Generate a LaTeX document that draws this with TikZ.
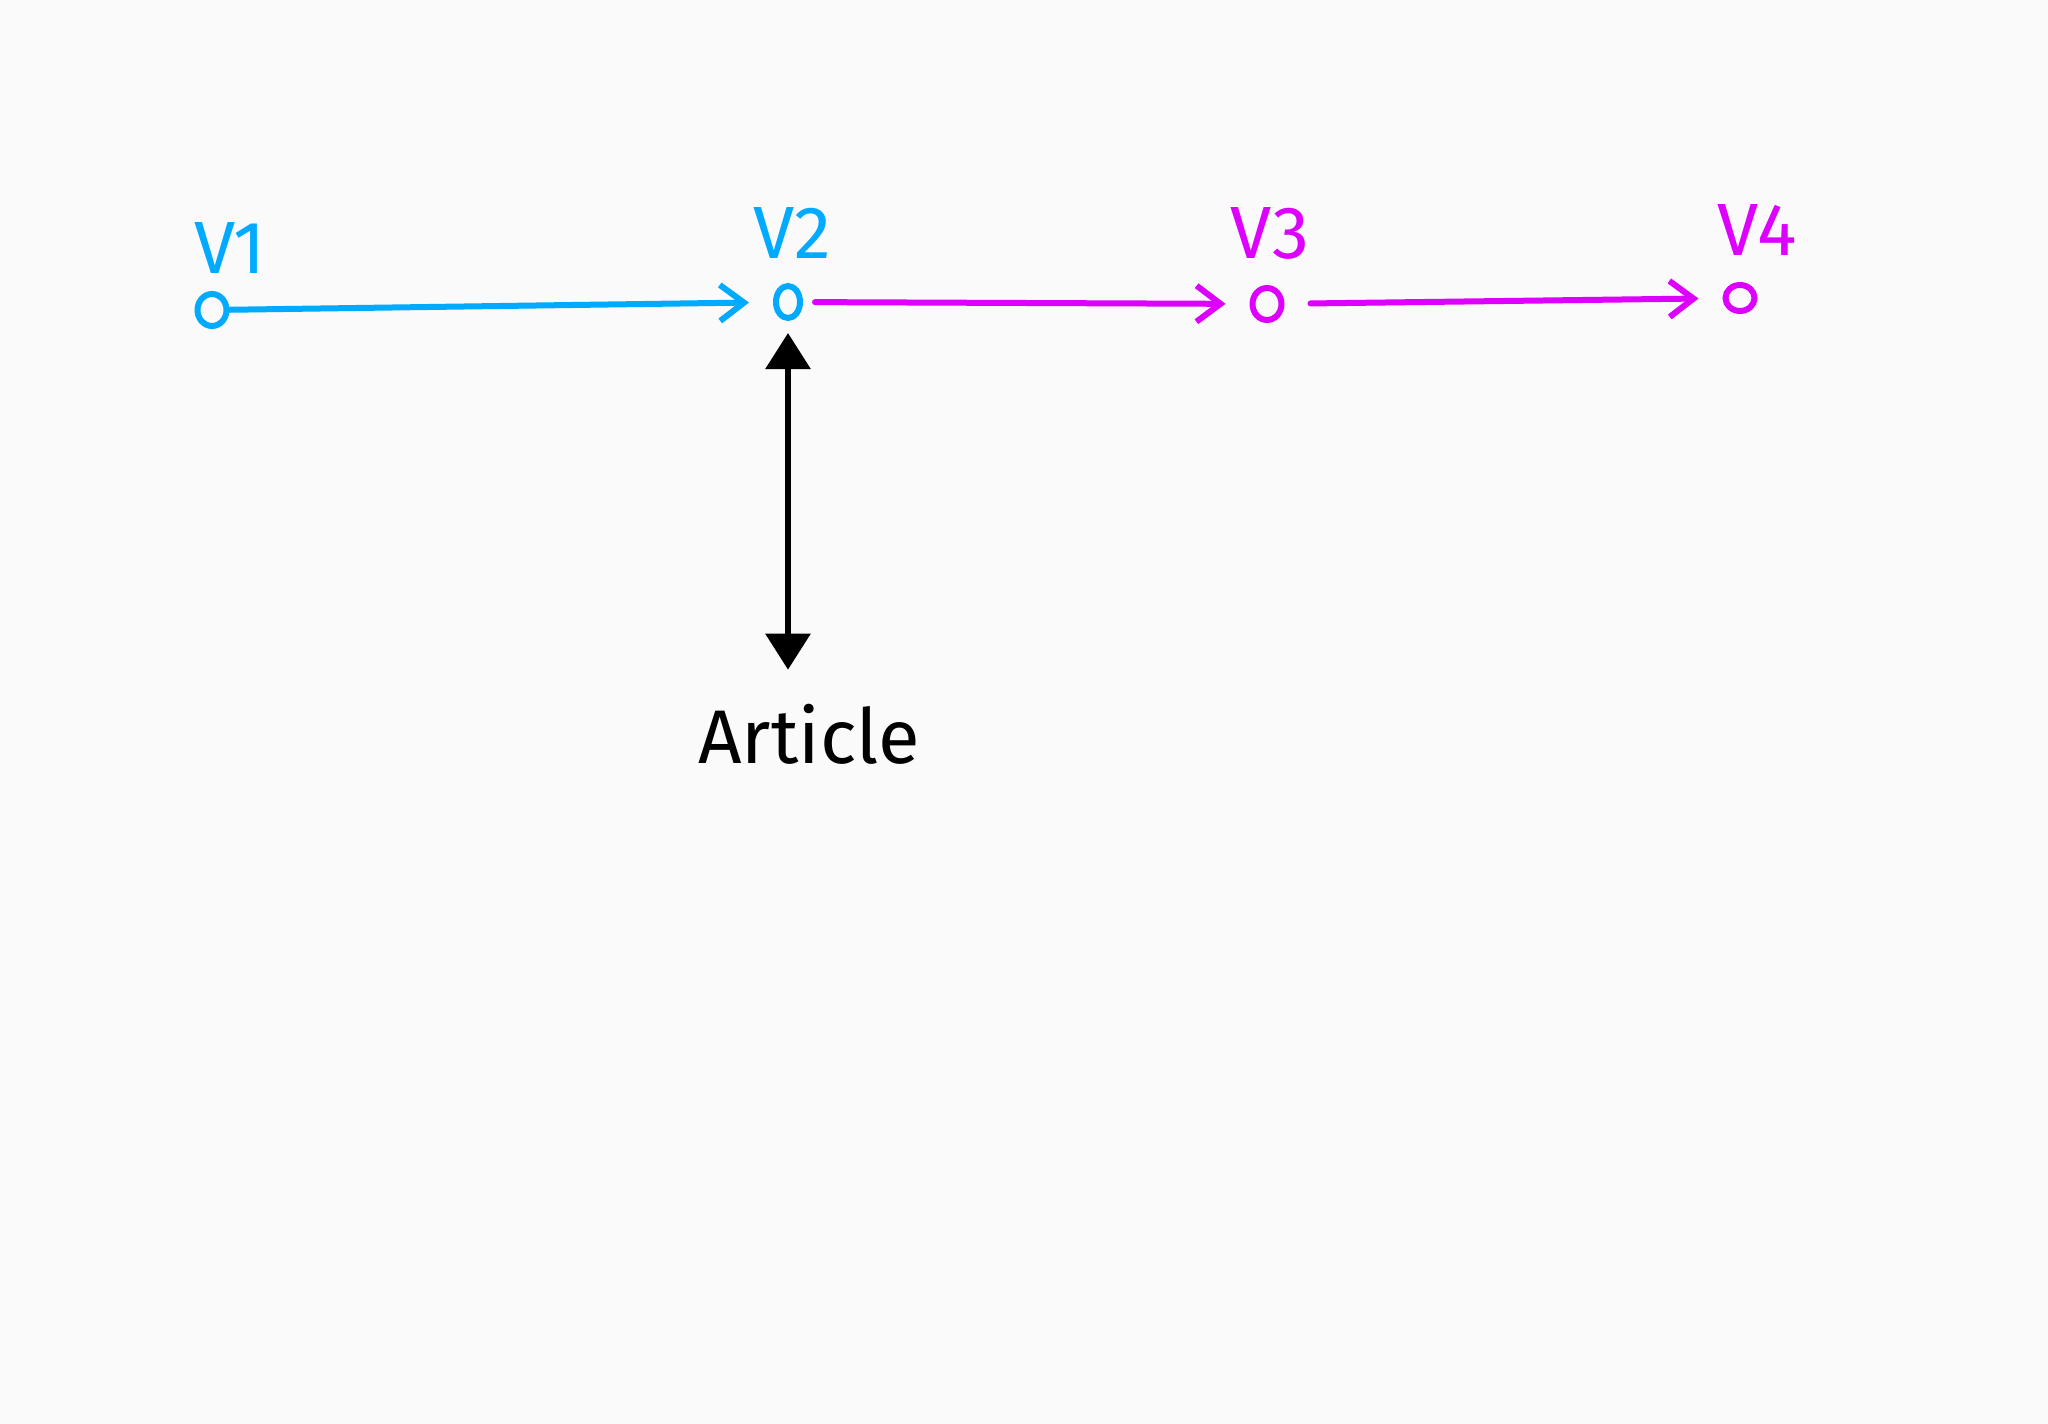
\documentclass[tikz,border=0pt]{standalone}
\usepackage{fontspec}
\setmainfont{Fira Sans}
\usetikzlibrary{arrows.meta,shapes.geometric,positioning}
\definecolor{vblue}{RGB}{0,170,255}
\definecolor{vmag}{RGB}{221,0,255}
\definecolor{paper}{RGB}{250,250,250}
\tikzset{
  vertex/.style={draw,ellipse,line width=6pt,inner sep=0pt,minimum width=29pt,minimum height=32pt},
  vlabel/.style={font=\fontsize{74}{78}\selectfont,inner sep=0pt},
  flow/.style={line width=6pt,line cap=round,-{Straight Barb[length=24pt,width=36pt]}},
  link/.style={line width=6pt,{Triangle[length=36pt,width=44pt]}-{Triangle[length=36pt,width=44pt]}}
}
\begin{document}
\begin{tikzpicture}[x=1pt,y=-1pt]
\fill[paper] (0,0) rectangle (2048,1424);
\useasboundingbox (0,0) rectangle (2048,1424);
%vertici
\node[vertex,vblue] (v1) at (212,310) {};
\node[vertex,vblue,minimum width=24pt] (v2) at (788,302) {};
\node[vertex,vmag] (v3) at (1267,304) {};
\node[vertex,vmag,minimum height=26pt] (v4) at (1740,298) {};
%etichette
\node[vlabel,vblue] (lv1) at (230,248) {V1};
\node[vlabel,vblue] (lv2) at (792,233) {V2};
\node[vlabel,vmag] (lv3) at (1270,233) {V3};
\node[vlabel,vmag] (lv4) at (1757,230) {V4};
\node[font=\fontsize{76}{80}\selectfont,inner sep=0pt] (art) at (809,734) {Article};
%frecce
\draw[flow,vblue,shorten >=24pt] (v1) -- (v2);
\draw[flow,vmag,shorten <=12pt,shorten >=24pt] (v2) -- (v3);
\draw[flow,vmag,shorten <=26pt,shorten >=24pt] (v3) -- (v4);
\draw[link,shorten <=12pt,shorten >=34pt] (v2.south) -- (v2.south |- art.north);
\end{tikzpicture}
\end{document}
